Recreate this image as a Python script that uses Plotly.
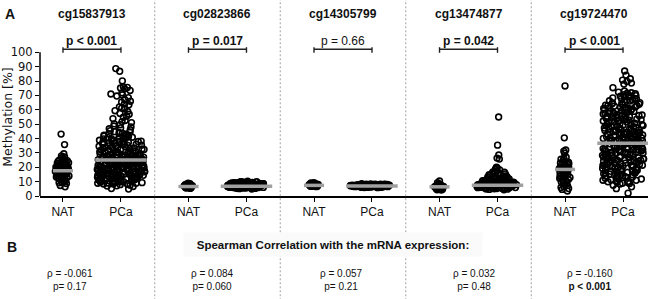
import plotly.graph_objects as go

# ---------------- data ----------------
genes = ["cg15837913", "cg02823866", "cg14305799", "cg13474877", "cg19724470"]
groups = ["NAT", "PCa"]
p_labels = ["p &lt; 0.001", "p = 0.017", "p = 0.66", "p = 0.042", "p &lt; 0.001"]
p_bold = [True, True, False, True, True]
rho_values = ["-0.061", "0.084", "0.057", "0.032", "-0.160"]
rho_pvalues = ["0.17", "0.060", "0.21", "0.48", "&lt; 0.001"]
rho_p_bold = [False, False, False, False, True]
y_ticks = [0, 10, 20, 30, 40, 50, 60, 70, 80, 90, 100]

nat_medians = [17.6, 6.6, 7.4, 6.4, 18.5]
pca_medians = [25.0, 6.8, 7.0, 7.4, 36.8]

nat_1 = [43.1, 35.8, 29.4, 27.9, 26.5, 25.2, 24.6, 23.8, 22.7, 22.1, 21.5, 20.9, 20.3, 19.6,
         19.1, 18.7, 18.2, 17.8, 17.4, 17.1, 16.6, 16.2, 15.8, 15.3, 14.7, 14.2, 13.6, 12.9,
         12.2, 11.5, 10.8, 9.6, 8.7, 7.3, 6.4, 18.9, 17.6, 16.9, 15.5, 20.6, 13.9, 12.5, 22.9,
         19.8, 11.1, 24.1, 27.2, 26.0, 24.9, 23.2, 21.9, 21.0, 19.4, 18.5, 17.3, 16.4, 15.1,
         14.4, 13.3, 12.0, 10.4, 9.2, 20.0, 18.0, 16.0, 14.0]
pca_1 = [88.7, 86.8, 80.1, 76.0, 75.6, 75.2, 74.6, 73.5, 71.8, 71.0, 70.4, 69.6, 68.5, 67.2,
         66.0, 65.3, 64.1, 63.5, 62.0, 61.2, 60.7, 59.4, 58.8, 57.5, 56.9, 55.6, 54.8, 53.9,
         52.6, 51.8, 51.1, 50.2, 49.6, 48.7, 48.1, 47.4, 46.8, 46.1, 45.5, 44.8, 44.2, 43.6,
         43.0, 42.4, 41.7, 41.1, 40.6, 40.0, 39.5, 38.8, 38.2, 37.7, 37.1, 36.5, 36.0, 35.4,
         34.9, 34.3, 33.8, 33.2, 32.7, 32.1, 31.6, 31.2, 30.7, 30.2, 29.8, 29.3, 28.9, 28.4,
         28.0, 27.6, 27.1, 26.7, 26.3, 25.9, 25.5, 25.1, 24.7, 24.3, 23.9, 23.5, 23.1, 22.7,
         22.3, 21.9, 21.5, 21.1, 20.7, 20.3, 19.9, 19.4, 19.0, 18.6, 18.1, 17.7, 17.2, 16.8,
         16.3, 15.8, 15.3, 14.8, 14.3, 13.7, 13.1, 12.5, 11.9, 11.2, 10.5, 9.7, 8.8, 7.9, 6.6,
         5.2, 4.8, 24.9, 24.0, 23.3, 22.5, 21.7, 20.9, 20.1, 19.2, 18.4, 17.5, 16.6, 15.6, 14.6,
         13.4, 12.2, 11.0, 9.9, 9.1, 8.3, 7.5, 23.7, 22.0, 20.5, 18.9, 17.0, 15.1, 13.9, 12.8,
         10.8, 9.4, 24.5, 22.9, 21.3, 19.6, 17.9, 16.1, 14.1, 12.0, 10.1, 8.6, 30.5, 28.7, 27.3,
         26.0, 32.9, 34.6, 36.3, 38.5, 26.9, 29.5, 31.9, 33.5, 35.7, 37.4, 39.8, 41.4, 27.8,
         24.2, 21.2, 18.3, 15.5, 12.7, 11.6, 9.3, 44.6, 43.3, 42.0, 40.9, 39.1, 37.9, 36.8,
         35.2, 34.0, 32.4, 31.0, 29.9, 28.6, 27.4, 26.4, 25.3, 24.4, 23.4, 22.4, 21.6, 20.6,
         19.5, 18.7, 17.8, 16.9, 15.9, 15.0, 14.0, 13.2, 12.3, 11.4, 10.6, 9.8, 8.9, 8.1,
         41.9, 39.9, 37.5, 35.1, 33.0, 31.4, 29.7, 28.2, 26.8, 25.6, 24.6, 23.6, 22.6, 21.8,
         20.8, 19.8, 18.8, 17.6, 16.4, 15.2, 14.4, 13.3, 12.4, 11.3, 10.4, 9.5, 8.4, 7.1,
         38.0, 34.4, 30.9, 28.3, 26.2, 24.8, 23.0, 21.0, 19.3, 17.4, 15.7, 13.8, 11.8, 10.0,
         6.9, 36.4, 32.5, 29.1, 27.0, 25.2, 23.7, 22.2, 20.2, 18.5, 16.7, 14.9, 12.9, 10.9, 8.7]

nat_2 = [8.9, 8.6, 8.3, 8.1, 7.9, 7.7, 7.5, 7.4, 7.2, 7.1, 7.0, 6.9, 6.8, 6.6, 6.5, 6.4, 6.2,
         6.0, 5.8, 5.5, 5.3, 7.3, 6.7, 7.8, 6.3, 8.4, 5.9, 7.6]
pca_2 = [10.3, 10.0, 9.8, 9.7, 9.5, 9.4, 9.3, 9.2, 9.1, 9.0, 8.9, 8.9, 8.8, 8.7, 8.6, 8.6, 8.5,
         8.4, 8.3, 8.3, 8.2, 8.1, 8.0, 8.0, 7.9, 7.8, 7.8, 7.7, 7.6, 7.6, 7.5, 7.4, 7.4, 7.3,
         7.3, 7.2, 7.1, 7.1, 7.0, 7.0, 6.9, 6.9, 6.8, 6.8, 6.7, 6.7, 6.6, 6.6, 6.5, 6.5, 6.4,
         6.4, 6.3, 6.3, 6.2, 6.2, 6.1, 6.0, 6.0, 5.9, 5.8, 5.8, 5.7, 5.6, 5.5, 5.4, 5.3, 5.1,
         4.9, 9.6, 9.0, 8.5, 8.1, 7.7, 7.2, 6.8, 6.1, 5.6, 9.9, 8.7, 7.9, 7.0, 6.5, 5.9, 9.2,
         8.4, 7.5, 6.7, 6.2, 5.7, 8.8, 8.2, 7.3, 6.9, 6.4, 6.0]

nat_3 = [9.3, 9.0, 8.8, 8.6, 8.5, 8.3, 8.2, 8.0, 7.9, 7.8, 7.6, 7.5, 7.4, 7.3, 7.2, 7.1, 7.0,
         6.9, 6.8, 6.7, 6.5, 8.1, 7.7, 7.4, 8.4]
pca_3 = [8.6, 8.4, 8.3, 8.2, 8.1, 8.0, 8.0, 7.9, 7.8, 7.8, 7.7, 7.6, 7.6, 7.5, 7.5, 7.4, 7.4,
         7.3, 7.3, 7.2, 7.2, 7.1, 7.1, 7.0, 7.0, 7.0, 6.9, 6.9, 6.8, 6.8, 6.8, 6.7, 6.7, 6.6,
         6.6, 6.5, 6.5, 6.4, 6.4, 6.3, 6.3, 6.2, 6.1, 6.0, 5.9, 5.8, 8.3, 7.9, 7.5, 7.1, 6.7,
         6.3, 8.1, 7.7, 7.3, 6.9, 6.5, 6.1, 8.0, 7.6, 7.2, 6.8, 6.4, 7.8, 7.4, 7.0, 6.6, 6.2,
         8.2, 7.0, 6.9, 7.1, 7.2, 6.8, 7.3, 6.7, 7.4, 6.6, 7.5, 7.6]

nat_4 = [10.4, 9.2, 8.6, 8.1, 7.7, 7.4, 7.1, 6.9, 6.7, 6.5, 6.4, 6.2, 6.0, 5.8, 5.6, 5.4, 5.2,
         5.0, 4.7, 4.4, 4.1, 6.6, 6.1, 7.0, 5.5]
pca_4 = [55.0, 35.4, 28.5, 26.4, 25.7, 20.1, 19.5, 18.8, 18.2, 17.6, 17.1, 16.5, 16.0, 15.4,
         14.9, 14.5, 14.0, 13.6, 13.2, 12.8, 12.4, 12.0, 11.7, 11.4, 11.1, 10.8, 10.5, 10.3,
         10.0, 9.8, 9.6, 9.4, 9.2, 9.0, 8.8, 8.7, 8.5, 8.4, 8.2, 8.1, 7.9, 7.8, 7.7, 7.5, 7.4,
         7.3, 7.2, 7.1, 7.0, 6.9, 6.8, 6.7, 6.6, 6.5, 6.4, 6.3, 6.2, 6.1, 6.0, 5.9, 5.8, 5.6,
         5.5, 5.3, 5.1, 4.9, 4.6, 4.3, 11.9, 11.2, 10.6, 10.1, 9.5, 9.1, 8.6, 8.3, 7.9, 7.6,
         7.2, 6.9, 6.5, 6.2, 5.8, 5.4, 5.0, 12.6, 11.5, 10.4, 9.7, 8.9, 8.0, 7.3, 6.7, 6.0,
         5.2, 13.4, 12.1, 10.9, 9.9, 9.3, 8.4, 7.7, 7.0, 6.4, 5.7, 4.8, 15.7, 14.2, 12.9,
         11.0, 9.0, 8.2, 7.5, 6.8, 6.3, 5.6, 16.8, 13.8, 10.2, 8.8, 7.8, 7.1, 6.6, 5.9]

nat_5 = [76.6, 40.5, 32.0, 31.2, 29.8, 27.0, 25.6, 24.8, 23.5, 22.7, 21.9, 21.0, 20.2, 19.6,
         18.9, 18.4, 17.8, 17.2, 16.5, 15.7, 14.8, 13.9, 13.0, 12.1, 11.0, 9.8, 8.6, 7.2, 5.9,
         4.6, 3.5, 19.1, 16.0, 22.1, 12.6, 26.2, 24.0, 21.5, 20.6, 18.0, 17.0, 15.2, 14.2,
         12.9, 11.5, 10.3, 9.0, 7.8, 6.5, 5.2, 23.0]
pca_5 = [87.0, 84.1, 81.6, 80.7, 79.8, 78.6, 77.9, 75.4, 73.1, 72.3, 71.5, 71.2, 70.2, 69.5,
         68.9, 67.4, 66.8, 65.3, 64.7, 63.2, 62.6, 61.1, 60.4, 59.8, 58.3, 57.7, 56.2, 55.6,
         54.9, 53.5, 52.8, 51.4, 50.7, 49.3, 48.6, 47.2, 46.5, 45.1, 44.5, 43.1, 42.5, 41.1,
         40.5, 39.2, 38.5, 37.2, 36.6, 35.3, 34.6, 33.3, 32.7, 31.4, 30.7, 29.4, 28.8, 27.5,
         26.8, 25.5, 24.9, 23.6, 22.9, 21.6, 21.0, 19.7, 19.0, 17.6, 16.9, 15.5, 14.7, 13.1,
         12.3, 10.5, 9.6, 7.5, 6.4, 5.1, 2.0, 66.1, 63.9, 61.8, 59.2, 57.1, 54.3, 52.2, 50.1,
         48.0, 45.9, 44.0, 42.2, 40.1, 38.0, 36.2, 34.1, 32.0, 30.2, 28.1, 26.0, 24.1, 22.2,
         20.4, 18.3, 16.1, 14.0, 11.8, 9.9, 8.3, 68.3, 62.0, 58.7, 55.2, 51.6, 47.7, 44.8,
         41.6, 39.7, 37.8, 35.7, 33.9, 31.8, 29.9, 27.9, 25.9, 23.8, 21.4, 18.8, 15.8, 12.8,
         10.9, 65.0, 60.9, 56.6, 53.1, 49.0, 46.3, 43.4, 40.8, 38.9, 37.0, 35.0, 33.0, 31.1,
         29.0, 26.5, 24.5, 22.6, 20.0, 17.2, 14.4, 11.3, 67.0, 63.5, 57.4, 53.9, 49.8, 47.3,
         42.8, 39.5, 36.9, 34.8, 32.3, 29.6, 27.2, 23.3, 19.4, 13.5, 8.9, 71.9, 69.9, 67.8,
         66.3, 64.4, 62.9, 61.5, 60.0, 58.9, 57.3, 56.0, 54.6, 53.2, 52.4, 51.1, 49.6, 48.3,
         47.0, 45.6, 44.2, 42.9, 41.4, 40.2, 38.7, 37.5, 36.3, 35.0, 33.6, 32.4, 31.2, 29.8,
         28.5, 27.1, 25.7, 24.4, 23.1, 21.8, 20.6, 19.1, 17.9, 16.5, 15.1, 13.7, 12.0, 10.2,
         8.7, 70.6, 67.9, 64.2, 61.3, 58.1, 55.8, 52.6, 50.4, 48.9, 46.7, 44.3, 42.0, 40.4,
         38.3, 36.0, 34.3, 32.6, 30.5, 28.3, 26.3, 24.2, 22.0, 19.9, 17.8, 15.3, 12.6, 9.4,
         69.1, 63.0, 59.5, 56.4, 51.9, 48.2, 45.4, 43.7, 41.3, 39.0, 37.4, 35.4, 33.4, 31.6,
         29.2, 26.9, 24.7, 21.2, 18.1, 14.2, 11.0, 54.0, 46.0, 43.0, 38.2, 34.4, 30.0, 25.0,
         20.8, 16.4]

nat_values = [nat_1, nat_2, nat_3, nat_4, nat_5]
pca_values = [pca_1, pca_2, pca_3, pca_4, pca_5]

# ---------------- layout helpers ----------------
FONT = "Arial, Liberation Sans, sans-serif"
AXFONT = "DejaVu Sans, Verdana, sans-serif"
OFF = 0.231                       # NAT / PCa offset from panel centre
nat_jitter_w = [0.13, 0.07, 0.08, 0.08, 0.10]
pca_jitter_w = [0.38, 0.35, 0.35, 0.35, 0.33]
NAT_BAR = 0.08
PCA_BAR = 0.205
XMIN, XMAX = -0.414, 4.43

fig = go.Figure()
marker = dict(symbol="circle-open", size=5.8, color="black", line=dict(width=1.6, color="black"))

for k in range(len(genes)):
    for pos, vals, w in ((k - OFF, nat_values[k], nat_jitter_w[k]),
                         (k + OFF, pca_values[k], pca_jitter_w[k])):
        fig.add_trace(go.Box(
            x0=pos, y=vals, boxpoints="all", jitter=1, pointpos=0, width=w,
            line=dict(width=0, color="rgba(0,0,0,0)"), fillcolor="rgba(0,0,0,0)",
            marker=marker, hoverinfo="skip", showlegend=False))

for k in range(len(genes)):
    for pos, m, h in ((k - OFF, nat_medians[k], NAT_BAR), (k + OFF, pca_medians[k], PCA_BAR)):
        fig.add_trace(go.Scatter(x=[pos - h, pos + h], y=[m, m], mode="lines",
                                 line=dict(color="#a0a0a0", width=3.5),
                                 hoverinfo="skip", showlegend=False))
    a, b = k - OFF, k + OFF
    fig.add_trace(go.Scatter(x=[a, a, None, a, b, None, b, b],
                             y=[103.6, 99.7, None, 102.2, 102.2, None, 103.6, 99.7],
                             mode="lines", line=dict(color="#222222", width=1.4),
                             hoverinfo="skip", showlegend=False))

annotations = []
shapes = []
rho_shift = [-22, -5, -2, 6, -4]
for k, g in enumerate(genes):
    annotations.append(dict(x=k, y=1.152, xref="x", yref="paper", text=f"<b>{g}</b>",
                            showarrow=False, font=dict(size=12, color="#111", family=FONT),
                            xanchor="center", yanchor="middle"))
    txt = f"<b>{p_labels[k]}</b>" if p_bold[k] else p_labels[k]
    annotations.append(dict(x=k, y=102.3, xref="x", yref="y", text=txt, showarrow=False,
                            font=dict(size=12, color="#111", family=FONT),
                            xanchor="center", yanchor="bottom", borderpad=0))
    ptxt = f"<b>p {rho_pvalues[k]}</b>" if rho_p_bold[k] else f"p= {rho_pvalues[k]}"
    annotations.append(dict(x=k, y=-0.53, xref="x", yref="paper", xshift=rho_shift[k],
                            text=f"\u03c1 = {rho_values[k]}<br>{ptxt}", showarrow=False,
                            font=dict(size=10, color="#111", family=FONT),
                            xanchor="center", yanchor="middle", align="center"))
    if k < len(genes) - 1:
        shapes.append(dict(type="line", xref="x", yref="paper", x0=k + 0.5, x1=k + 0.5,
                           y0=-0.66, y1=1.26, line=dict(color="#a0a0a0", width=1, dash="2px,2px")))

shapes.append(dict(type="line", xref="paper", yref="y", x0=0, x1=0, y0=0, y1=100,
                   line=dict(color="black", width=1.5)))

annotations.append(dict(x=-0.061, y=1.152, xref="paper", yref="paper", text="<b>A</b>",
                        showarrow=False, font=dict(size=14, color="#111", family=FONT),
                        xanchor="left", yanchor="middle"))
annotations.append(dict(x=-0.058, y=-0.323, xref="paper", yref="paper", text="<b>B</b>",
                        showarrow=False, font=dict(size=14, color="#111", family=FONT),
                        xanchor="left", yanchor="middle"))
annotations.append(dict(x=0.482, y=-0.31, xref="paper", yref="paper",
                        text="<b>Spearman Correlation with the mRNA expression:</b>",
                        showarrow=False, font=dict(size=11.5, color="#111", family=FONT),
                        xanchor="center", yanchor="middle", bgcolor="#fafafa",
                        width=296, height=21))

tickvals = []
ticktext = []
for k in range(len(genes)):
    tickvals += [k - OFF, k + OFF]
    ticktext += groups

fig.update_layout(
    width=650, height=299, autosize=False,
    margin=dict(l=40, r=2, t=38, b=103),
    paper_bgcolor="white", plot_bgcolor="white",
    font=dict(family=FONT, color="#111"),
    showlegend=False,
    xaxis=dict(type="linear", range=[XMIN, XMAX], tickvals=tickvals, ticktext=ticktext,
               showline=True, linecolor="black", linewidth=1.5, ticks="outside",
               ticklen=4, tickwidth=1.3, tickcolor="black", showgrid=False, zeroline=False,
               tickfont=dict(size=12, family=FONT, color="#111")),
    yaxis=dict(range=[0, 110], tickvals=y_ticks, showline=False, showgrid=False,
               zeroline=False, ticks="outside", ticklen=4, tickwidth=1.3, tickcolor="black",
               tickfont=dict(size=11.5, family=AXFONT, color="#111"),
               title=dict(text="Methylation [%]", standoff=1,
                          font=dict(size=12.5, family=AXFONT, color="#111"))),
    annotations=annotations,
    shapes=shapes,
)

fig.write_html("out.html", config={"displayModeBar": False},
               post_script="document.body.style.margin='0';document.body.style.overflow='hidden';")
